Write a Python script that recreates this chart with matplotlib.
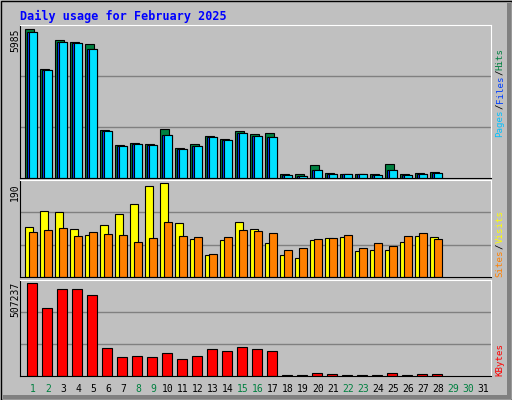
import numpy as np
import matplotlib
matplotlib.use("Agg")
import matplotlib.pyplot as plt
from matplotlib.patches import Rectangle

days = np.arange(1, 32)
hits = [5985, 4401, 5551, 5497, 5416, 1923, 1313, 1408, 1354, 1977, 1205, 1354, 1679, 1571,
        1896, 1760, 1814, 149, 149, 542, 190, 149, 149, 149, 582, 149, 190, 230]
files = [5863, 4360, 5497, 5457, 5213, 1882, 1273, 1354, 1313, 1720, 1151, 1273, 1638, 1516,
         1801, 1679, 1638, 108, 95, 338, 149, 149, 149, 108, 338, 108, 149, 190]
pages = files
visits = [100, 134, 132, 97, 85, 104, 128, 147, 184, 190, 108, 77, 44, 75,
          110, 97, 69, 44, 38, 75, 79, 81, 52, 54, 54, 71, 83, 81]
sites = [91, 95, 99, 83, 91, 87, 85, 71, 79, 110, 83, 81, 46, 81,
         95, 93, 89, 54, 58, 77, 79, 85, 58, 69, 62, 83, 89, 77]
kbytes = [507237, 372600, 472200, 472200, 439000, 151250, 101450, 107000, 101450, 123600,
          90400, 107000, 145700, 134650, 156800, 145700, 134650, 7400, 7400, 18400, 12900,
          7400, 7400, 7400, 18400, 7400, 12900, 12900]
weekend = [1, 2, 8, 9, 15, 16, 22, 23, 29, 30]

W, H = 512, 400
BG = "#c0c0c0"
MONO = "DejaVu Sans Mono"
fig = plt.figure(figsize=(W / 100, H / 100), dpi=100)
fig.patch.set_facecolor(BG)

def px(x0, y0, x1, y1):
    return [x0 / W, 1 - y1 / H, (x1 - x0) / W, (y1 - y0) / H]

# outer frame
bg = fig.add_axes([0, 0, 1, 1])
bg.set_xlim(0, W); bg.set_ylim(H, 0); bg.axis("off")
bg.add_patch(Rectangle((0.5, 0.5), W - 1, H - 1, fill=False, ec="black", lw=1))
bg.add_patch(Rectangle((W - 5, 3), 4, H - 4, color="#808080", lw=0))
bg.add_patch(Rectangle((3, H - 5), W - 4, 4, color="#808080", lw=0))
bg.text(20, 16, "Daily usage for February 2025", color="#0000ff", fontsize=8.5,
        fontweight="bold", family=MONO, va="center")

xlim = (0.133, 31.53)

def panel(y0, y1, vmax):
    ax = fig.add_axes(px(20, y0, 491, y1))
    ax.set_facecolor(BG)
    ax.set_xlim(*xlim); ax.set_ylim(0, vmax * 1.03)
    ax.set_xticks([]); ax.set_yticks([])
    for s in ("left", "bottom"):
        ax.spines[s].set_color("black")
    for s in ("top", "right"):
        ax.spines[s].set_color("white")
    for k in (1, 2):
        ax.axhline(vmax * 1.03 * k / 3, color="#808080", lw=1, zorder=0)
    return ax

def bars(ax, vals, off0, off1, color):
    d = np.arange(1, len(vals) + 1)
    ax.bar(d + off0, vals, width=off1 - off0, align="edge", color=color,
           edgecolor="black", lw=0.8, zorder=2)

SIDE_FS = 6.6
STEP = SIDE_FS * 100 / 72 * 0.602 + 0.1

def side_label(y_bottom, parts):
    y = y_bottom
    for txt, col in parts:
        bg.text(500, y, txt, rotation=90, color=col, fontsize=SIDE_FS, family=MONO,
                ha="center", va="bottom", rotation_mode="anchor" if False else "default")
        y -= len(txt) * STEP

ax1 = panel(25, 178, max(hits))
bars(ax1, hits, -0.53, 0.05, "#008040")
bars(ax1, files, -0.40, 0.25, "#0040ff")
bars(ax1, pages, -0.28, 0.25, "#00e0ff")
bg.text(15, 28, str(max(hits)), rotation=90, fontsize=7, family=MONO, ha="center", va="top")
side_label(137, [("Pages", "#00c0ff"), ("/", "#000000"), ("Files", "#0040ff"),
                 ("/", "#000000"), ("Hits", "#008040")])

ax2 = panel(180, 277, max(visits))
bars(ax2, visits, -0.53, 0.03, "#ffff00")
bars(ax2, sites, -0.27, 0.25, "#ff8000")
bg.text(15, 183, str(max(visits)), rotation=90, fontsize=7, family=MONO, ha="center", va="top")
side_label(277, [("Sites", "#ff8000"), ("/", "#000000"), ("Visits", "#ffff00")])

ax3 = panel(280, 376, max(kbytes))
bars(ax3, kbytes, -0.42, 0.25, "#ff0000")
bg.text(15, 282, str(max(kbytes)), rotation=90, fontsize=7, family=MONO, ha="center", va="top")
side_label(376, [("KBytes", "#ff0000")])

for d in days:
    x = 20 + (d - xlim[0]) / (xlim[1] - xlim[0]) * 471
    bg.text(x, 389, str(d), fontsize=7, family=MONO, ha="center", va="center",
            color="#008040" if d in weekend else "black")

fig.savefig("out.png", dpi=100, facecolor=BG)
